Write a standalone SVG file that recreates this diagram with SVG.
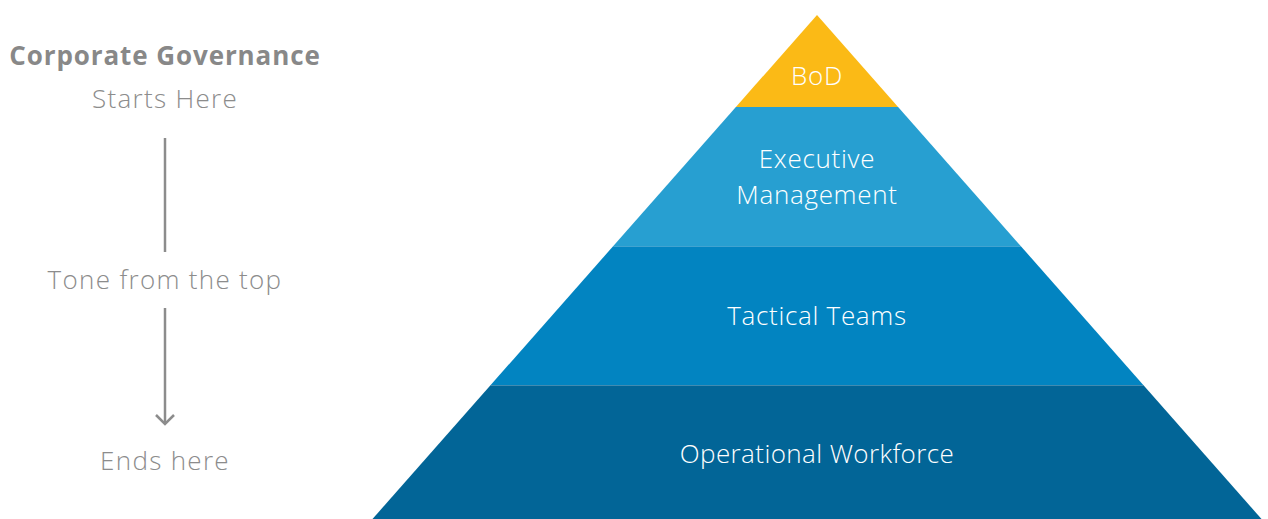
<svg xmlns="http://www.w3.org/2000/svg" width="1268" height="519" viewBox="0 0 1268 519">
<style>
.t{font-family:"Open Sans",Lato,"Liberation Sans",sans-serif;font-weight:300;font-size:26px;text-anchor:middle}
.w{fill:#ffffff;letter-spacing:0.7px}
.g{fill:#8c8c8c;letter-spacing:1.3px}
.b{font-weight:700;fill:#888888;letter-spacing:0.9px}
.sep{stroke:#ffffff;stroke-opacity:0.25;stroke-width:1}
.ln{stroke:#8c8c8c;stroke-width:2.5;fill:none}
</style>
<rect width="1268" height="519" fill="#ffffff"/>
<g id="bod">
<polygon points="817,15 898.1,107 735.9,107" fill="#FBBA16"/>
<text class="t w" x="817" y="85">BoD</text>
</g>
<g id="executive">
<polygon points="735.9,107 898.1,107 1020.7,246 613.3,246" fill="#279FD1"/>
<text class="t w" x="817" y="168">Executive</text>
<text class="t w" x="817" y="204">Management</text>
</g>
<g id="tactical">
<polygon points="613.3,246 1020.7,246 1143.3,385 490.7,385" fill="#0284C1"/>
<text class="t w" x="817" y="325">Tactical Teams</text>
</g>
<g id="operational">
<polygon points="490.7,385 1143.3,385 1261.5,519 372.5,519" fill="#026597"/>
<text class="t w" x="817" y="463" style="letter-spacing:0.4px">Operational Workforce</text>
</g>
<g id="separators">
<line class="sep" x1="613.3" y1="246.5" x2="1020.7" y2="246.5"/>
<line class="sep" x1="490.7" y1="385.5" x2="1143.3" y2="385.5"/>
</g>
<g id="labels">
<text class="t b" x="165" y="65">Corporate Governance</text>
<text class="t g" x="165" y="108">Starts Here</text>
<text class="t g" x="165" y="289">Tone from the top</text>
<text class="t g" x="165" y="470">Ends here</text>
</g>
<g id="connectors">
<line class="ln" x1="165" y1="138" x2="165" y2="252"/>
<line class="ln" x1="165" y1="308" x2="165" y2="424"/>
<polyline class="ln" points="156,415 165,424 174,415"/>
</g>
</svg>
